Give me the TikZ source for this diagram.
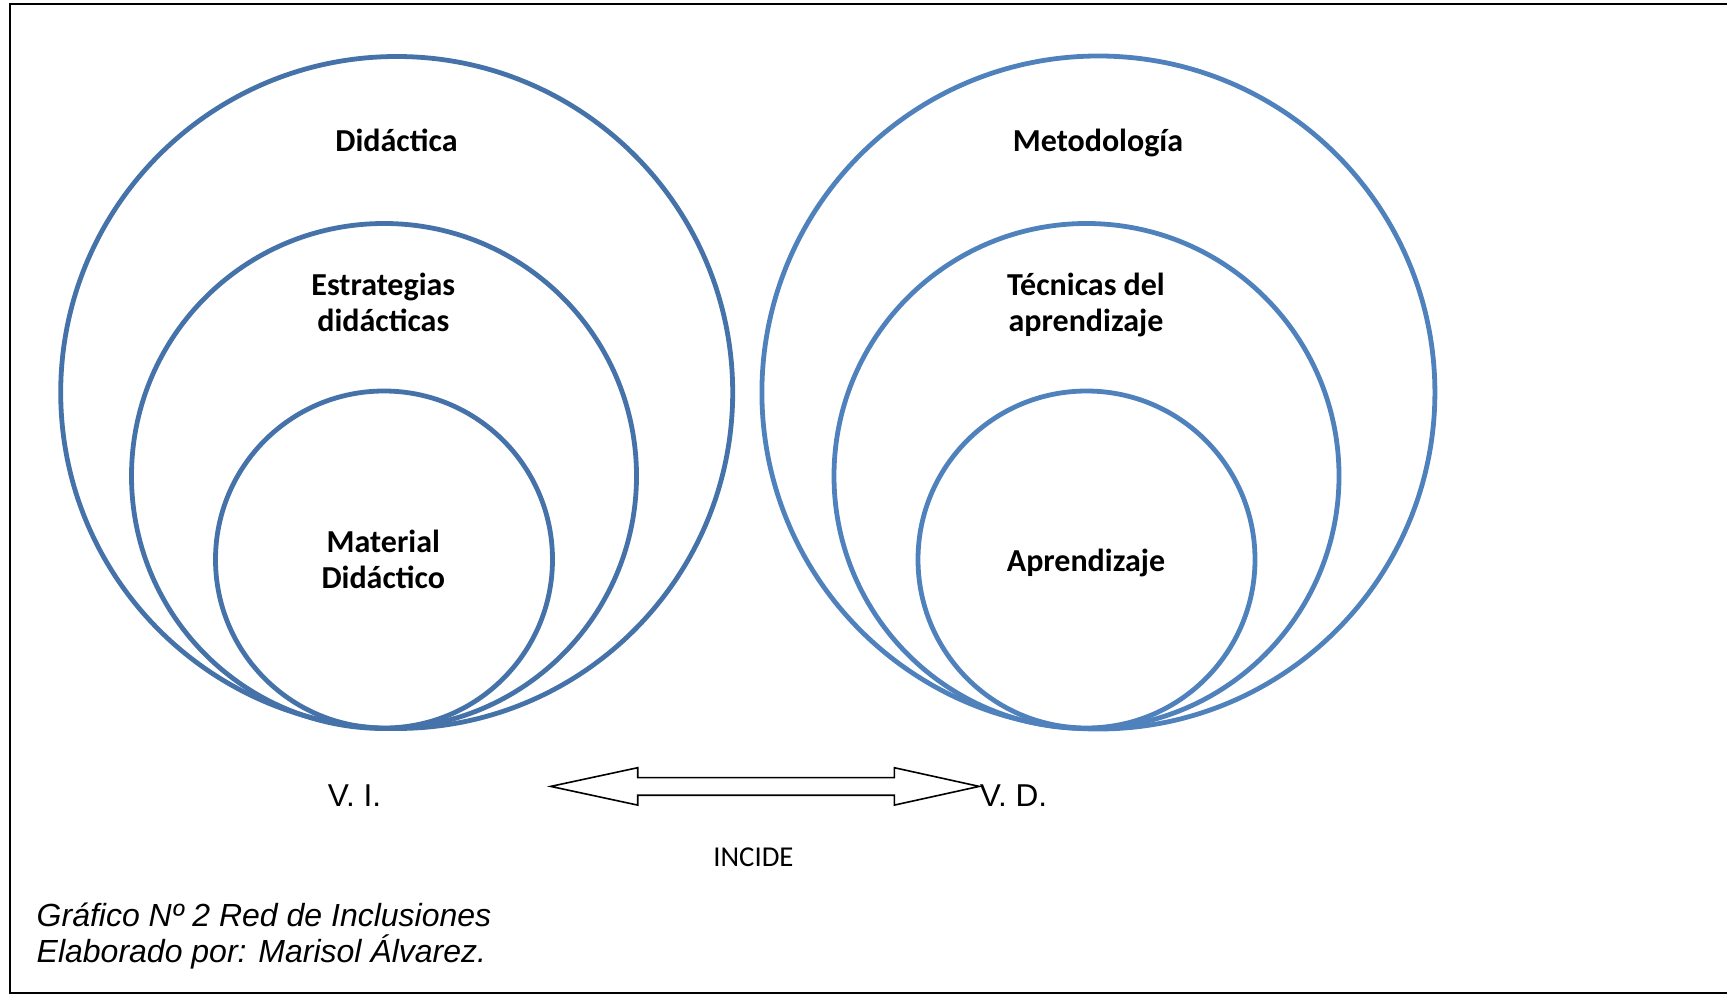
\documentclass[tikz,border=0pt]{standalone}
\usepackage{fontspec}
\setmainfont{Liberation Sans}
\newfontfamily\carl{Carlito}
\begin{document}
\begin{tikzpicture}[x=0.5pt,y=-0.5pt,
  ringL/.style={circle,draw=blueL,line width=2.4pt,inner sep=0pt},
  ringR/.style={circle,draw=blueR,line width=2.4pt,inner sep=0pt},
  lab/.style={font=\carl\bfseries\fontsize{16}{17.75}\selectfont,align=center,inner sep=0pt},
  var/.style={font=\fontsize{15.8}{18}\selectfont,inner sep=0pt},
  captext/.style={font=\itshape\fontsize{16}{18}\selectfont,inner sep=0pt,anchor=base west},
  blockarrow/.style={draw=black,line width=0.8pt,fill=white,line join=miter}]
\definecolor{blueL}{RGB}{69,115,169}
\definecolor{blueR}{RGB}{79,129,189}
\useasboundingbox (0,0) rectangle (1727,994);
\draw[line width=1pt] (10,4) rectangle (1760,993);
% left rings
\node[ringL,minimum size=336pt] (Lout) at (396.7,392.5) {};
\node[ringL,minimum size=252.5pt] (Lmid) at (384,476) {};
\node[ringL,minimum size=168.5pt] (Lin) at (384,559.5) {};
% right rings
\node[ringR,minimum size=336.5pt] (Rout) at (1098.4,392.5) {};
\node[ringR,minimum size=252.5pt] (Rmid) at (1086.5,476) {};
\node[ringR,minimum size=168.5pt] (Rin) at (1086.5,559.5) {};
% labels
\node[lab] (tDid) at (396.5,140) {Didáctica};
\node[lab] (tEst) at (383.3,302.5) {Estrategias\\didácticas};
\node[lab] (tMat) at (383.3,559.5) {Material\\Didáctico};
\node[lab] (tMet) at (1098,142.5) {Metodología};
\node[lab] (tTec) at (1086,305) {Técnicas del\\aprendizaje};
\node[lab] (tApr) at (1086,563) {Aprendizaje};
% variables
\node[var] (vi) at (354.6,796) {V. I.};
\node[var,anchor=west] (vd) at (979.5,796) {V. D.};
\node[font=\carl\fontsize{14.4}{17}\selectfont,inner sep=0pt] (inc) at (753.4,857) {INCIDE};
% block arrow
\coordinate (aL) at (550.7,786.4);
\coordinate (aR) at (979.2,786.4);
\draw[blockarrow] (aL) -- (637.7,767.7) -- (637.7,777.6) -- (894.3,777.6) -- (894.3,767.7)
  -- (aR) -- (894.3,805.1) -- (894.3,795.2) -- (637.7,795.2) -- (637.7,805.1) -- cycle;
% caption
\node[captext] (c1) at (36.3,926) {Gráfico Nº 2 Red de Inclusiones};
\node[captext] (c2) at (36.3,962) {Elaborado por: Marisol Álvarez.};
\end{tikzpicture}
\end{document}
